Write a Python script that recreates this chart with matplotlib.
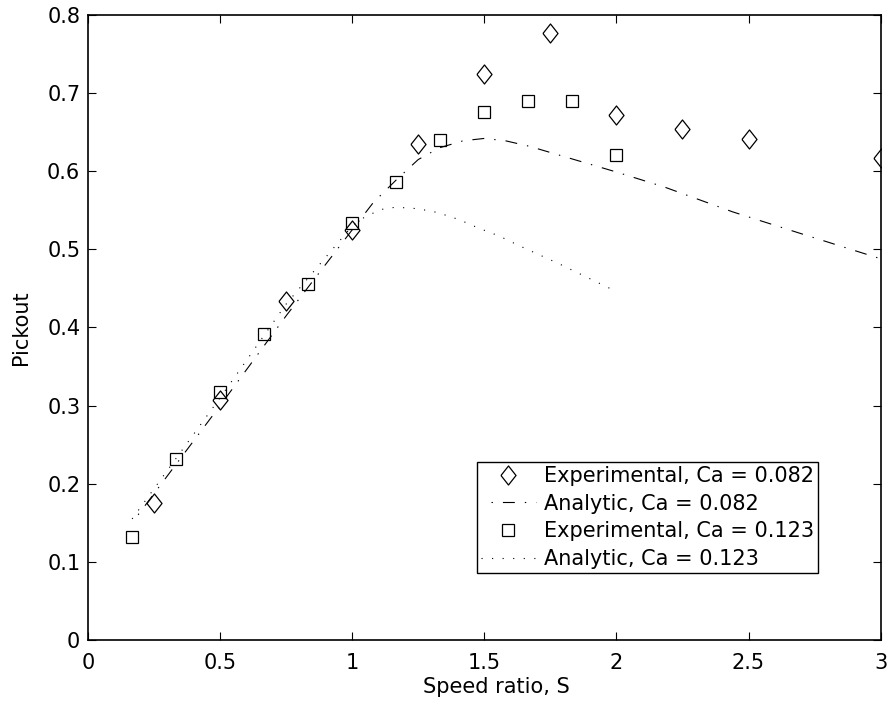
#!/usr/bin/env python3
"""Pickout vs speed ratio: experimental points and analytic curves for two Ca."""

import matplotlib
matplotlib.use("Agg")
import matplotlib.pyplot as plt
from matplotlib.ticker import FormatStrFormatter

plt.rcParams["font.family"] = ["DejaVu Sans"]
plt.rcParams["lines.scale_dashes"] = False

# experimental, Ca = 0.082 (diamonds)
s_exp_082 = [0.25, 0.5, 0.75, 1.0, 1.25, 1.5, 1.75, 2.0, 2.25, 2.5, 3.0]
p_exp_082 = [0.175, 0.307, 0.434, 0.525, 0.635, 0.724, 0.777, 0.672, 0.654, 0.641, 0.617]

# analytic, Ca = 0.082 (dash-dot)
s_ana_082 = [0.167, 0.5, 0.75, 1.0, 1.08, 1.17, 1.25, 1.33, 1.42, 1.5, 1.58, 1.67,
             1.78, 2.0, 2.18, 2.44, 2.7, 3.0]
p_ana_082 = [0.150, 0.300, 0.415, 0.525, 0.560, 0.590, 0.615, 0.630, 0.639, 0.642,
             0.639, 0.632, 0.621, 0.599, 0.580, 0.548, 0.520, 0.488]

# experimental, Ca = 0.123 (squares)
s_exp_123 = [0.167, 0.333, 0.5, 0.667, 0.833, 1.0, 1.167, 1.333, 1.5, 1.667, 1.833, 2.0]
p_exp_123 = [0.132, 0.232, 0.317, 0.392, 0.456, 0.534, 0.586, 0.640, 0.676, 0.690, 0.690, 0.621]

# analytic, Ca = 0.123 (dotted)
s_ana_123 = [0.167, 0.5, 0.75, 1.0, 1.05, 1.09, 1.12, 1.167, 1.25, 1.325, 1.405, 1.48,
             1.557, 1.63, 1.78, 2.0]
p_ana_123 = [0.155, 0.310, 0.430, 0.530, 0.542, 0.548, 0.552, 0.554, 0.552, 0.547,
             0.538, 0.527, 0.517, 0.505, 0.482, 0.446]

labels = ["Experimental, Ca = 0.082", "Analytic, Ca = 0.082",
          "Experimental, Ca = 0.123", "Analytic, Ca = 0.123"]

diamond = [(-0.79, 0), (0, 1), (0.79, 0), (0, -1), (-0.79, 0)]
FS = 15

fig = plt.figure(figsize=(8.88, 7.11), dpi=100)
ax = fig.add_axes([0.0991, 0.0999, 0.8926, 0.879])

ax.plot(s_exp_082, p_exp_082, linestyle="none", marker=diamond, markersize=13.7,
        markerfacecolor="none", markeredgecolor="black", markeredgewidth=0.9,
        label=labels[0])
ax.plot(s_ana_082, p_ana_082, color="black", linewidth=0.8,
        linestyle=(8.6, (8.6, 7.2, 1.0, 7.2)), label=labels[1])
ax.plot(s_exp_123, p_exp_123, linestyle="none", marker="s", markersize=8.6,
        markerfacecolor="none", markeredgecolor="black", markeredgewidth=0.9,
        label=labels[2])
ax.plot(s_ana_123, p_ana_123, color="black", linewidth=0.8,
        dashes=(0.8, 6.8), label=labels[3])

ax.set_xlim(0, 3)
ax.set_ylim(0, 0.8)
ax.set_xticks([0, 0.5, 1, 1.5, 2, 2.5, 3])
ax.set_yticks([0, 0.1, 0.2, 0.3, 0.4, 0.5, 0.6, 0.7, 0.8])
ax.xaxis.set_major_formatter(FormatStrFormatter("%g"))
ax.yaxis.set_major_formatter(FormatStrFormatter("%g"))
ax.tick_params(direction="in", length=5.5, width=0.8, labelsize=FS,
               top=True, right=True)
ax.tick_params(axis="x", pad=9.5)
ax.tick_params(axis="y", pad=5.5)
for sp in ax.spines.values():
    sp.set_linewidth(1.2)

ax.set_xlabel("Speed ratio, S", fontsize=FS, labelpad=2.5)
ax.xaxis.label.set_x(0.515)
ax.set_ylabel("Pickout", fontsize=FS, labelpad=11.5)

leg = ax.legend(loc="upper left", bbox_to_anchor=(0.491, 0.285), fontsize=FS,
                frameon=True, fancybox=False, framealpha=1, edgecolor="black",
                handlelength=2.6, handletextpad=0.4, labelspacing=0.37,
                borderpad=0.2, borderaxespad=0)
leg.get_frame().set_linewidth(1.0)

fig.savefig("out.png", dpi=100)
